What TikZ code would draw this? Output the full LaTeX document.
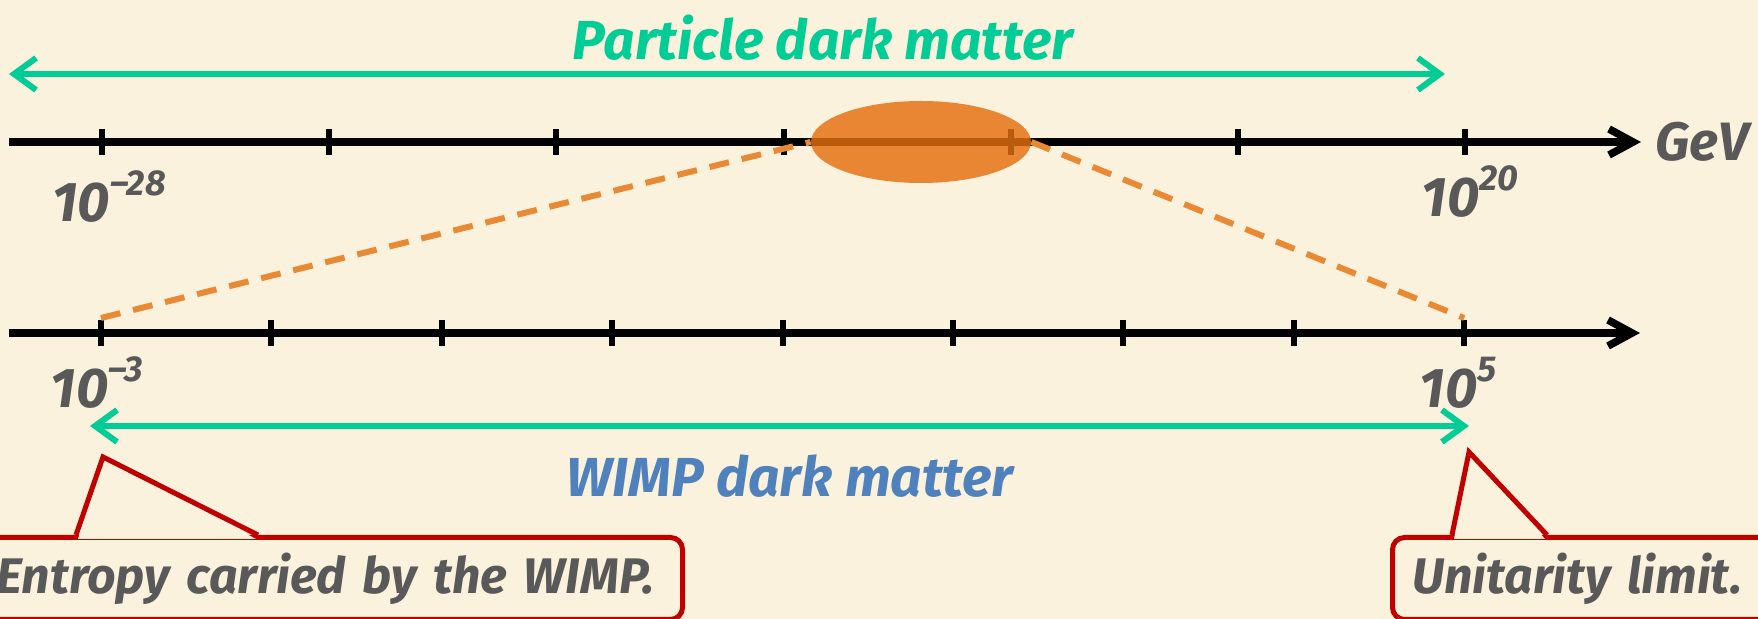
\documentclass[tikz,border=0pt]{standalone}
\usepackage{fontspec}
\setmainfont{Fira Sans}
\usetikzlibrary{arrows.meta, positioning, calc, shapes.geometric}
\definecolor{paper}{RGB}{251,242,221}
\definecolor{mint}{RGB}{0,204,150}
\definecolor{wimpblue}{RGB}{79,129,189}
\definecolor{blob}{RGB}{228,111,15}
\definecolor{dashorange}{RGB}{234,137,52}
\definecolor{boxred}{RGB}{192,0,0}
\definecolor{slate}{RGB}{89,89,89}
\newcommand{\tenpow}[1]{10\raisebox{0.48em}{\fontsize{18}{18}\selectfont #1}}

\begin{document}
\begin{tikzpicture}[x=0.5pt, y=-0.5pt,
    every node/.style={inner sep=0pt, font=\bfseries\itshape},
    axisline/.style={line width=3.8pt, -{Straight Barb[length=12pt, width=13pt]}},
    tickmark/.style={line width=3pt},
    spanarrow/.style={draw=mint, line width=3pt,
      {Straight Barb[length=11pt, width=16pt]}-{Straight Barb[length=11pt, width=16pt]}},
    numlbl/.style={text=slate, font=\bfseries\itshape\fontsize{28}{30}\selectfont, anchor=base},
    rangelbl/.style={font=\bfseries\itshape\fontsize{27.5}{30}\selectfont, anchor=base},
    callout/.style={draw=boxred, line width=2.5pt, fill=paper, rounded corners=6pt,
      text=slate, font=\bfseries\itshape\fontsize{25}{28}\selectfont,
      align=left, inner xsep=10pt, minimum height=41pt, anchor=north west},
    pointer/.style={draw=boxred, line width=2.5pt},
    massline/.style={draw=dashorange, line width=3pt, dash pattern=on 10pt off 6.5pt},
  ]
  \useasboundingbox (0,0) rectangle (1758,619);
  \fill[paper] (0,0) rectangle (1758,619);
  \clip (0,0) rectangle (1758,619);

  % particle dark matter range
  \coordinate (pdmL) at (9,74);
  \coordinate (pdmR) at (1445,74);
  \draw[spanarrow] (pdmL) -- (pdmR);
  \node (pdm) [rangelbl, text=mint] at (823,60) {Particle dark matter};

  % GeV axis
  \coordinate (gevstart) at (9,142);
  \coordinate (gevend) at (1641,142);
  \draw[axisline] (gevstart) -- (gevend);
  \foreach \i in {0,...,6} {
    \coordinate (t\i) at ({102+227.2*\i},142);
    \draw[tickmark] ($(t\i)+(0,-13)$) -- ($(t\i)+(0,13)$);
  }
  \node (gev) [text=slate, font=\bfseries\itshape\fontsize{27}{30}\selectfont,
    right=7pt of gevend] {GeV};
  \node (lo28) [numlbl] at ($(t0)+(7,80)$) {\tenpow{–28}};
  \node (hi20) [numlbl] at ($(t6)+(5,75)$) {\tenpow{20}};

  \node (blob) [ellipse, fill=blob, fill opacity=0.82,
    minimum width=110pt, minimum height=41pt] at (921,142) {};

  % WIMP axis
  \coordinate (evstart) at (9,333);
  \coordinate (evend) at (1640,333);
  \draw[axisline] (evstart) -- (evend);
  \foreach \i in {0,...,8} {
    \coordinate (b\i) at ({101+170.4*\i},333);
    \draw[tickmark] ($(b\i)+(0,-13)$) -- ($(b\i)+(0,13)$);
  }
  \node (lo3) [numlbl] at ($(b0)+(-4,75)$) {\tenpow{–3}};
  \node (hi5) [numlbl] at ($(b8)+(-6,75)$) {\tenpow{5}};

  \draw[massline] ($(b0)+(0,-15)$) -- (blob.west);
  \draw[massline] (blob.east) -- ($(b8)+(0,-15)$);

  % WIMP range
  \coordinate (wimpL) at (90,426);
  \coordinate (wimpR) at (1469,426);
  \draw[spanarrow] (wimpL) -- (wimpR);
  \node (wdm) [rangelbl, text=wimpblue] at (790,497) {WIMP dark matter};

  % callouts
  \node (entropy) [callout, text width=333pt] at (-26,535) {Entropy carried by the WIMP.};
  \node (unitarity) [callout, text width=200pt] at (1390,535) {Unitarity limit.};

  \coordinate (entropytip) at (103,457);
  \fill[paper] ($(entropy.north west)+(104,4)$) -- (entropytip)
    -- ($(entropy.north west)+(282,4)$) -- cycle;
  \draw[pointer] ($(entropy.north west)+(102,0)$) -- (entropytip)
    -- ($(entropy.north west)+(284,0)$);

  \coordinate (unitaritytip) at (1469,452);
  \fill[paper] ($(unitarity.north west)+(64,4)$) -- (unitaritytip)
    -- ($(unitarity.north west)+(155,4)$) -- cycle;
  \draw[pointer] ($(unitarity.north west)+(62,0)$) -- (unitaritytip)
    -- ($(unitarity.north west)+(157,0)$);
\end{tikzpicture}
\end{document}
